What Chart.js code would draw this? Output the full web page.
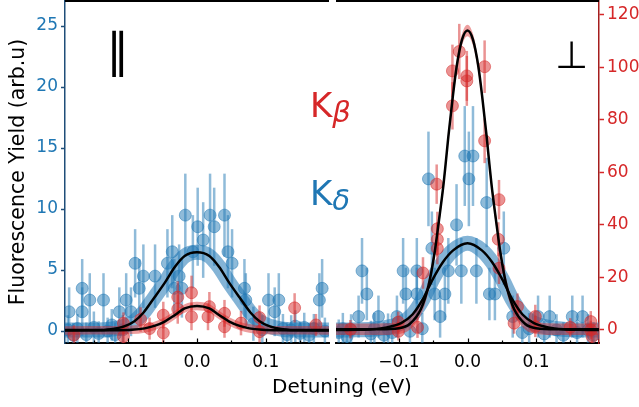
<!DOCTYPE html>
<html>
<head>
<meta charset="utf-8">
<script src="https://cdn.jsdelivr.net/npm/chart.js@4.4.1/dist/chart.umd.min.js"></script>
<style>
  body { margin: 0; background: #fff; }
  #wrap { position: relative; width: 639px; height: 407px; overflow: hidden; font-family: 'DejaVu Sans', sans-serif; }
  canvas { position: absolute; top: 0; }
  .lbl { position: absolute; white-space: nowrap; }
</style>
</head>
<body>
<div id="wrap">
  <canvas id="left-panel" width="333" height="407" style="left:0"></canvas>
  <canvas id="right-panel" width="306" height="407" style="left:333px"></canvas>
  <div class="lbl" style="left:106px; top:27px; font-size:47px; line-height:47px; color:#000">∥</div>
  <div class="lbl" style="left:555px; top:36px; font-size:38px; line-height:38px; color:#000">⊥</div>
  <div class="lbl" style="left:310px; top:88px; font-size:34px; line-height:34px; color:#d62728">K<span style="font-size:29px; font-style:italic; position:relative; top:4.5px">β</span></div>
  <div class="lbl" style="left:310px; top:176px; font-size:34px; line-height:34px; color:#1f77b4">K<span style="font-size:29px; font-style:italic; position:relative; top:4.5px">δ</span></div>
  <div class="lbl" style="left:342px; top:376px; transform:translateX(-50%); font-size:20px; line-height:20px; color:#000">Detuning (eV)</div>
</div>
<script>
// tick positions
const xTickValues = [-0.1, 0, 0.1];
const xMinorTicks = [-0.15, -0.05, 0.05, 0.15];
const leftYTicks = [0, 5, 10, 15, 20, 25];
const rightYTicks = [0, 20, 40, 60, 80, 100, 120];

// parallel panel, K-delta (blue)
const leftBlueX = [-0.188, -0.186, -0.180, -0.174, -0.167, -0.167, -0.161, -0.156, -0.150, -0.143, -0.136, -0.130, -0.124, -0.119, -0.113, -0.108, -0.103, -0.096, -0.090, -0.084, -0.078, -0.061, -0.043, -0.036, -0.033, -0.026, -0.022, -0.017, -0.006, 0.001, 0.009, 0.019, 0.025, 0.040, 0.045, 0.051, 0.069, 0.071, 0.082, 0.095, 0.104, 0.113, 0.119, 0.125, 0.131, 0.137, 0.143, 0.150, 0.156, 0.163, 0.170, 0.178, 0.182, 0.186];
const leftBlueY = [0.1, 1.58, -0.35, 0.2, 3.5, 1.58, -0.3, 2.54, 0.3, -0.2, 2.54, 0.0, 0.5, -0.3, 1.58, 0.1, 2.54, 1.58, 5.55, 3.5, 4.5, 4.5, 5.55, 6.5, 3.5, 4.5, 3.5, 9.5, 6.5, 8.55, 7.46, 9.5, 8.55, 9.5, 6.5, 5.55, 3.5, 2.54, 0.6, 0.1, 2.54, 1.58, 2.54, 0.2, -0.3, 0.1, 0.4, -0.2, 0.3, -0.35, 0.2, 2.54, 3.5, 0.0];
const leftBlueErr = [1.2, 2.0, 1.0, 1.2, 2.4, 2.0, 1.0, 2.2, 1.3, 1.0, 2.2, 1.1, 1.3, 1.0, 2.0, 1.2, 2.2, 2.0, 2.8, 2.4, 2.6, 2.6, 2.8, 3.0, 2.4, 2.6, 2.4, 3.4, 3.0, 3.2, 3.1, 3.4, 3.2, 3.4, 3.0, 2.8, 2.4, 2.2, 1.4, 1.2, 2.2, 2.0, 2.2, 1.2, 1.0, 1.2, 1.3, 1.0, 1.2, 1.0, 1.2, 2.2, 2.4, 1.1];

// parallel panel, K-beta (red)
const leftRedX = [-0.179, -0.107, -0.107, -0.082, -0.069, -0.049, -0.049, -0.028, -0.028, -0.008, -0.008, 0.016, 0.018, 0.040, 0.040, 0.064, 0.091, 0.091, 0.142, 0.173];
const leftRedY = [-0.33, 0.63, -0.45, 0.95, 0.2, 1.3, -0.15, 2.78, 1.8, 3.14, 1.17, 1.17, 2.0, 1.45, 0.35, 0.65, 1.1, -0.05, 1.9, 0.5];
const leftRedErr = [0.8, 0.9, 0.8, 1.0, 0.9, 1.1, 0.9, 1.3, 1.2, 1.4, 1.1, 1.1, 1.2, 1.1, 0.9, 1.0, 1.0, 0.9, 1.2, 0.9];

// perpendicular panel, K-delta (blue)
const rightBlueX = [-0.188, -0.182, -0.176, -0.170, -0.159, -0.154, -0.147, -0.141, -0.136, -0.130, -0.122, -0.116, -0.110, -0.103, -0.094, -0.090, -0.084, -0.074, -0.074, -0.066, -0.057, -0.052, -0.048, -0.040, -0.033, -0.028, -0.016, -0.009, -0.004, 0.002, 0.008, 0.013, 0.028, 0.032, 0.040, 0.053, 0.066, 0.080, 0.090, 0.103, 0.112, 0.120, 0.130, 0.140, 0.153, 0.160, 0.168, 0.176, 0.184];
const rightBlueY = [-1.0, 0.5, -2.5, 0.0, 5.1, 22.5, 13.7, -1.5, 0.5, 5.1, -2.0, 0.3, -1.0, 5.1, 22.5, 13.7, -0.5, 22.5, 13.7, 0.5, 57.5, 31.1, 13.7, 5.1, 13.7, 22.5, 40, 22.5, 66.2, 57.5, 66.2, 22.5, 48.5, 13.7, 13.7, 31.1, 5.1, -1.0, 0.5, 5.1, -1.5, 5.1, 0.0, -2.0, 5.1, -1.0, 5.1, 0.0, -2.0];
const rightBlueErr = [5, 6, 5, 6, 8, 12.5, 10, 5, 6, 8, 5, 6, 5, 8, 12.5, 10, 6, 12.5, 10, 6, 18, 14, 10, 8, 10, 12.5, 15.5, 12.5, 19, 18, 19, 12.5, 17, 10, 10, 14, 8, 5, 6, 8, 5, 8, 6, 5, 8, 5, 8, 6, 5];

// perpendicular panel, K-beta (red)
const rightRedX = [-0.171, -0.101, -0.101, -0.073, -0.065, -0.045, -0.044, -0.044, -0.044, -0.022, -0.022, -0.012, -0.001, -0.001, 0.025, 0.025, 0.045, 0.046, 0.046, 0.068, 0.073, 0.099, 0.099, 0.150, 0.180, 0.180, 0.182];
const rightRedY = [0.3, 3.0, -0.5, 1.0, 21.7, 55.5, 38.5, 34.5, 31.0, 98.6, 85.3, 106, 96.7, 94.8, 100.2, 72, 34.5, 49.6, 23.5, 2.6, 8.9, 5.1, 1.3, 1.0, 3.2, 0.0, -2.5];
const rightRedErr = [3.5, 4, 3.5, 4, 6, 7.5, 6.5, 6.5, 6, 10, 9, 10.5, 9.5, 9.5, 10, 8.5, 6.5, 7.5, 6, 4, 5, 4.5, 4, 3.5, 4, 3.5, 3.5];

// fitted curves
const leftBlueFitX = [-0.192, -0.15, -0.125, -0.105, -0.091, -0.078, -0.062, -0.047, -0.032, -0.018, 0, 0.018, 0.032, 0.047, 0.062, 0.078, 0.091, 0.105, 0.125, 0.15, 0.192];
const leftBlueFitY = [0.08, 0.08, 0.15, 0.4, 0.8, 1.5, 2.75, 3.95, 5.27, 6.15, 6.45, 6.15, 5.27, 3.95, 2.75, 1.5, 0.8, 0.4, 0.15, 0.08, 0.08];
const leftRedFitX = [-0.192, -0.12, -0.095, -0.076, -0.062, -0.047, -0.032, -0.018, 0, 0.018, 0.032, 0.047, 0.062, 0.076, 0.095, 0.12, 0.192];
const leftRedFitY = [0.05, 0.06, 0.1, 0.22, 0.42, 0.78, 1.32, 1.85, 2.05, 1.85, 1.32, 0.78, 0.42, 0.22, 0.1, 0.06, 0.05];
const rightBlueFitX = [-0.192, -0.16, -0.14, -0.118, -0.097, -0.080, -0.065, -0.051, -0.036, -0.021, 0, 0.021, 0.036, 0.051, 0.065, 0.080, 0.097, 0.118, 0.14, 0.16, 0.192];
const rightBlueFitY = [0, 0.1, 0.3, 1.0, 2.6, 6.0, 11.8, 19.2, 25.8, 30.3, 33, 30.3, 25.8, 19.2, 11.8, 6.0, 2.6, 1.0, 0.3, 0.1, 0];
const rightRedFitX = [-0.192, -0.13, -0.1, -0.084, -0.068, -0.057, -0.048, -0.0415, -0.035, -0.032, -0.028, -0.022, -0.016, -0.008, 0, 0.008, 0.016, 0.022, 0.028, 0.032, 0.035, 0.0415, 0.048, 0.057, 0.068, 0.084, 0.1, 0.13, 0.192];
const rightRedFitY = [0.3, 0.3, 0.7, 2.4, 8, 16.8, 29.5, 42, 55.5, 63, 73.5, 87.6, 100, 110.5, 114, 110.5, 100, 87.6, 73.5, 63, 55.5, 42, 29.5, 16.8, 8, 2.4, 0.7, 0.3, 0.3];

// half height of the red fit uncertainty band, in each panel's y units
const leftRedBand = 0.35;
const rightRedBand = 2.2;

const BLUE = '31, 119, 180';
const RED = '214, 39, 40';

Chart.defaults.font.family = "'DejaVu Sans', sans-serif";

function pairs(xs, ys, shift) {
    return xs.map((x, i) => ({x: x, y: ys[i] + (shift || 0)}));
}

function fmtTick(v) {
    if (v === 0) return '0.0';
    return (v < 0 ? '\u2212' : '') + Math.abs(v).toFixed(1);
}

// vertical error bars, drawn just before the point dataset they belong to
const errorBars = {
    id: 'errorBars',
    beforeDatasetDraw(chart, args) {
        const ds = chart.data.datasets[args.index];
        if (!ds.errors) return;
        const {ctx, chartArea: a} = chart;
        const x = chart.scales.x, y = chart.scales.y;
        ctx.save();
        ctx.beginPath();
        ctx.rect(a.left, a.top, a.right - a.left, a.bottom - a.top);
        ctx.clip();
        ctx.strokeStyle = ds.borderColor;
        ctx.lineWidth = 2.5;
        ds.data.forEach((p, i) => {
            const px = x.getPixelForValue(p.x);
            ctx.beginPath();
            ctx.moveTo(px, y.getPixelForValue(p.y - ds.errors[i]));
            ctx.lineTo(px, y.getPixelForValue(p.y + ds.errors[i]));
            ctx.stroke();
        });
        ctx.restore();
    }
};

// top spine and inward x ticks
const frame = {
    id: 'frame',
    afterDraw(chart) {
        const {ctx, chartArea: a} = chart;
        const x = chart.scales.x;
        ctx.save();
        ctx.strokeStyle = '#000';
        ctx.lineWidth = 2;
        ctx.beginPath();
        ctx.moveTo(a.left, a.top);
        ctx.lineTo(a.right, a.top);
        ctx.stroke();
        ctx.lineWidth = 1.2;
        const tick = (v, len) => {
            const px = Math.round(x.getPixelForValue(v)) + 0.5;
            ctx.beginPath();
            ctx.moveTo(px, a.bottom);
            ctx.lineTo(px, a.bottom - len);
            ctx.stroke();
        };
        xTickValues.forEach(v => tick(v, 4.5));
        xMinorTicks.forEach(v => tick(v, 2.5));
        ctx.restore();
    }
};

function panelDatasets(blueX, blueY, blueErr, redX, redY, redErr, bFitX, bFitY, rFitX, rFitY, band) {
    const curve = {showLine: true, pointRadius: 0, cubicInterpolationMode: 'monotone'};
    return [
        Object.assign({data: pairs(bFitX, bFitY), borderColor: '#000', borderWidth: 2.5, order: 0}, curve),
        Object.assign({data: pairs(rFitX, rFitY), borderColor: '#000', borderWidth: 2.5, order: 1}, curve),
        // red band: upper edge filled down to the lower edge (next dataset)
        Object.assign({data: pairs(rFitX, rFitY, band), borderWidth: 0, fill: '+1',
            backgroundColor: `rgba(${RED}, 0.45)`, order: 2}, curve),
        Object.assign({data: pairs(rFitX, rFitY, -band), borderWidth: 0, fill: false, order: 2}, curve),
        {
            data: pairs(redX, redY), errors: redErr, order: 3,
            backgroundColor: `rgba(${RED}, 0.5)`, borderColor: `rgba(${RED}, 0.5)`,
            pointRadius: 6, borderWidth: 1
        },
        Object.assign({data: pairs(bFitX, bFitY), borderColor: `rgba(${BLUE}, 0.55)`, borderWidth: 15, order: 4}, curve),
        {
            data: pairs(blueX, blueY), errors: blueErr, order: 5,
            backgroundColor: `rgba(${BLUE}, 0.5)`, borderColor: `rgba(${BLUE}, 0.5)`,
            pointRadius: 6, borderWidth: 1
        }
    ];
}

const xAxis = {
    type: 'linear',
    min: -0.192,
    max: 0.192,
    afterBuildTicks: s => { s.ticks = xTickValues.map(v => ({value: v})); },
    afterFit: s => { s.height = 64; s.paddingLeft = 0; s.paddingRight = 0; },
    grid: {display: false},
    border: {color: '#000', width: 2},
    ticks: {color: '#000', font: {size: 17}, padding: 1, maxRotation: 0, autoSkip: false, callback: fmtTick}
};

const leftChart = new Chart(document.getElementById('left-panel'), {
    type: 'scatter',
    data: {datasets: panelDatasets(leftBlueX, leftBlueY, leftBlueErr, leftRedX, leftRedY, leftRedErr,
        leftBlueFitX, leftBlueFitY, leftRedFitX, leftRedFitY, leftRedBand)},
    options: {
        responsive: false,
        animation: false,
        layout: {autoPadding: false, padding: {left: 0, right: 4, top: 1, bottom: 0}},
        plugins: {legend: {display: false}, tooltip: {enabled: false}},
        scales: {
            x: xAxis,
            y: {
                min: -0.98,
                max: 27.05,
                afterBuildTicks: s => { s.ticks = leftYTicks.map(v => ({value: v})); },
                afterFit: s => { s.width = 65; s.paddingTop = 0; s.paddingBottom = 0; },
                grid: {drawOnChartArea: false, tickLength: 4, tickColor: '#1f4e79', tickWidth: 1.5},
                border: {color: '#1f4e79', width: 1.5},
                ticks: {color: '#1f77b4', font: {size: 17}, padding: 3},
                title: {display: true, text: 'Fluorescence Yield (arb.u)', color: '#000',
                    font: {size: 20.5}, padding: {top: 6, bottom: 0}}
            }
        }
    },
    plugins: [errorBars, frame]
});

const rightChart = new Chart(document.getElementById('right-panel'), {
    type: 'scatter',
    data: {datasets: panelDatasets(rightBlueX, rightBlueY, rightBlueErr, rightRedX, rightRedY, rightRedErr,
        rightBlueFitX, rightBlueFitY, rightRedFitX, rightRedFitY, rightRedBand)},
    options: {
        responsive: false,
        animation: false,
        layout: {autoPadding: false, padding: {left: 3, right: 0, top: 1, bottom: 0}},
        plugins: {legend: {display: false}, tooltip: {enabled: false}},
        scales: {
            x: Object.assign({}, xAxis),
            y: {
                position: 'right',
                min: -4.95,
                max: 125.2,
                afterBuildTicks: s => { s.ticks = rightYTicks.map(v => ({value: v})); },
                afterFit: s => { s.width = 40; s.paddingTop = 0; s.paddingBottom = 0; },
                grid: {drawOnChartArea: false, tickLength: 5, tickColor: '#d62728', tickWidth: 1.5},
                border: {color: '#a51d1d', width: 1.5},
                ticks: {color: '#d62728', font: {size: 17}, padding: 3}
            }
        }
    },
    plugins: [errorBars, frame]
});
</script>
</body>
</html>
